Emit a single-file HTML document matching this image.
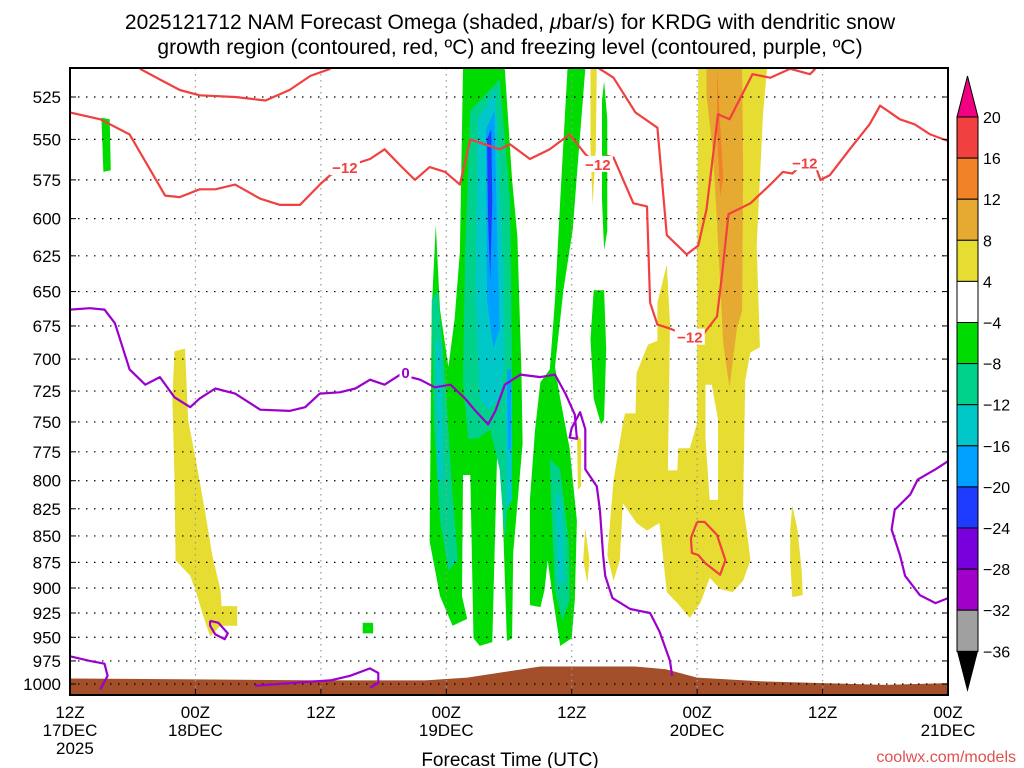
<!DOCTYPE html>
<html><head><meta charset="utf-8"><style>
html,body{margin:0;padding:0;background:#fff;}
svg{display:block;font-family:"Liberation Sans",sans-serif;}
</style></head><body>
<svg id="chart" width="1024" height="768" viewBox="0 0 1024 768">
<text x="510" y="29" font-size="21" text-anchor="middle">2025121712 NAM Forecast Omega (shaded, <tspan font-style="italic">μ</tspan>bar/s) for KRDG with dendritic snow</text>
<text x="510" y="54" font-size="21" text-anchor="middle">growth region (contoured, red, ºC) and freezing level (contoured, purple, ºC)</text>
<g id="shade"></g>
<g id="terrain"></g>
<g id="grid"></g>
<g id="lines"></g>
<rect x="70" y="68" width="878" height="627" fill="none" stroke="#000" stroke-width="2"/>
<g id="axes"></g>
<g id="cbar"></g>
<text x="510" y="766" font-size="19" text-anchor="middle">Forecast Time (UTC)</text>
<text x="1016" y="762" font-size="16" fill="#e05050" text-anchor="end">coolwx.com/models</text>
</svg>
<script>
const xTickHours=[0,12,24,36,48,60,72,84];
const xTickLabels=[["12Z","17DEC","2025"],["00Z","18DEC"],["12Z"],["00Z","19DEC"],["12Z"],["00Z","20DEC"],["12Z"],["00Z","21DEC"]];
const pLevels=[525,550,575,600,625,650,675,700,725,750,775,800,825,850,875,900,925,950,975,1000];
const cbarValues=[20,16,12,8,4,-4,-8,-12,-16,-20,-24,-28,-32,-36];
const cbarColors=["#f04040","#f08228","#e6aa32","#e6dc32","#ffffff","#00dc00","#00d28c","#00c8c8","#00a0ff","#1e3cff","#7800dc","#a000c8","#a0a0a0"];
const shadeValues=[6,-6,-6,-6,-6,-6,-6,6,6,6,6,0,10,14,6,-10,-10,-10,-14,-14,-14,-14,-18,-18,-22];
const shadePolys=[
[[10.0,694],[11.0,692],[11.3,748],[12.2,790],[12.9,826],[13.6,868],[14.4,902],[14.5,918],[16.0,918],[16.0,938],[14.4,938],[13.4,949],[12.9,933],[12.0,902],[11.5,888],[10.1,873],[10.0,799],[9.8,731]],
[[3.0,537],[3.8,538],[3.9,569],[3.2,570]],
[[28.0,935],[29.0,935],[29.0,946],[28.0,946]],
[[37.6,509],[41.6,509],[42.3,575],[42.8,612],[43.2,712],[43.3,768],[42.4,866],[42.3,951],[41.8,954],[41.3,802],[40.9,764],[40.4,955],[39.2,959],[38.6,951],[38.3,795],[37.6,795],[37.5,908],[38.0,931],[36.6,938],[35.4,908],[34.4,855],[34.6,663],[35.0,604],[35.4,663],[36.2,706],[36.8,670],[37.3,622]],
[[47.6,509],[49.3,509],[48.5,572],[48.1,607],[47.2,649],[46.4,706],[46.9,731],[47.8,772],[48.5,836],[48.3,912],[48.0,951],[46.9,959],[46.2,910],[45.7,873],[45.4,902],[45.0,919],[44.0,917],[44.0,817],[44.5,756],[45.0,718],[45.9,708],[46.4,656],[46.9,588]],
[[51.1,516],[51.4,538],[51.4,608],[51.1,621],[50.9,588],[50.9,527]],
[[50.1,649],[51.1,649],[51.3,692],[51.1,748],[50.8,752],[50.1,731],[49.8,685]],
[[48.5,760],[48.9,765],[48.9,805],[48.6,808]],
[[49.8,509],[50.4,509],[50.3,556],[50.0,591],[49.8,556]],
[[49.3,843],[49.7,873],[49.5,895],[49.1,873]],
[[60.1,508],[66.7,508],[66.3,535],[65.7,618],[66.0,691],[65.1,695],[64.6,717],[64.4,822],[64.8,849],[65.1,873],[64.4,893],[63.4,904],[62.2,901],[61.2,890],[60.3,915],[59.3,930],[58.1,915],[57.1,904],[56.4,838],[55.2,845],[54.2,838],[52.9,820],[52.6,873],[52.0,893],[51.4,868],[52.0,800],[52.9,751],[53.1,743],[54.1,743],[54.2,711],[55.3,689],[56.2,686],[56.2,658],[57.1,631],[57.4,673],[57.2,791],[58.1,791],[58.2,772],[59.3,772],[60.0,751],[60.0,623]],
[[60.8,720],[61.4,720],[62.0,748],[62.0,817],[61.2,817],[60.8,764]],
[[60.9,508],[64.3,508],[64.4,567],[64.3,664],[63.8,677],[63.1,722],[62.5,689],[61.9,602],[61.5,557],[60.9,524]],
[[61.9,510],[62.5,574],[62.2,585],[61.9,545]],
[[69.1,822],[69.6,844],[70.0,883],[70.1,907],[69.1,909],[68.9,873],[68.9,844]],
[[38.3,533],[41.1,515],[42.1,588],[42.3,700],[42.1,799],[41.6,854],[41.1,790],[40.2,756],[39.0,764],[38.1,764],[37.6,718],[37.8,624]],
[[34.6,656],[35.2,649],[35.9,716],[36.5,799],[37.1,873],[36.2,883],[35.4,835],[34.8,748]],
[[45.9,781],[46.9,790],[47.7,854],[47.8,912],[47.1,933],[46.4,902],[46.1,836]],
[[39.0,538],[40.7,521],[41.4,621],[41.6,700],[41.1,731],[40.0,740],[39.2,731],[38.8,656]],
[[41.6,716],[42.3,723],[42.3,817],[41.8,826]],
[[35.0,685],[35.5,689],[35.7,799],[35.2,799]],
[[46.5,809],[47.0,817],[47.3,893],[46.7,898]],
[[39.8,544],[40.6,533],[40.9,621],[41.1,677],[40.5,692],[39.9,656]],
[[41.8,708],[42.2,708],[42.2,772],[41.9,774]],
[[39.9,550],[40.3,544],[40.4,588],[40.2,642],[40.0,601]]
];
const terrainHours=[0,12,24,34,38,42,45,50,54,57,60,66,72,78,84];
const terrainPsfc=[994,995,996,996,993,986,981,981,981,984,993,997,999,1001,999];
const redLines=[
[[0,534],[2.9,538],[5.7,547],[7.7,569],[9.1,585],[10.5,586],[12.4,581],[13.9,581],[15.8,578],[18.2,587],[20.1,591],[22.0,591],[23.9,578],[24.9,572],[26.3,567],[28.7,562],[30.1,556],[31.6,566],[33.0,575],[34.4,567],[35.9,570],[37.3,578],[38.3,550],[41.1,556],[42.1,553],[44.0,562],[45.9,556],[47.8,547],[49.3,559],[50.5,565],[51.4,560],[52.0,561],[53.9,590],[55.2,592],[55.5,658],[56.2,674],[57.4,677],[59.3,683],[60.6,681],[61.9,668],[62.4,637],[63.0,597],[65.1,590],[67.0,578],[68.2,570],[69.1,571],[70.3,564],[71.3,566],[71.8,575],[72.7,572],[74.6,556],[76.5,541],[77.5,530],[79.4,538],[80.8,541],[82.3,547],[84,551]],
[[6.7,509],[8.6,515],[10.5,521],[12.4,524],[15.8,525],[18.7,527],[21.0,521],[23.0,513],[24.9,509]],
[[50.4,508],[52.0,514],[54.1,534],[56.2,543],[57.1,611],[59.0,624],[60.1,618],[60.9,594],[62.0,535],[63.1,538],[65.3,512],[67.0,514],[68.9,509],[70.8,512],[71.3,509]],
[[60.0,837],[60.7,837],[61.9,849],[62.7,873],[62.2,887],[60.8,876],[60.1,868],[59.5,866],[59.4,852],[60.0,837]]
];
const redLabels=[[26.3,567],[50.5,565],[59.3,683],[70.3,564]];
const purpleLines=[
[[0,663],[1.9,662],[3.3,663],[4.3,673],[5.7,708],[7.2,720],[8.6,714],[10.0,730],[11.5,738],[12.4,731],[13.9,723],[15.8,727],[18.2,740],[21.0,741],[22.5,738],[23.9,727],[25.8,726],[27.3,723],[28.7,716],[30.1,720],[31.6,712],[33.5,716],[34.9,722],[36.4,720],[37.8,731],[38.7,740],[40.0,752],[40.7,741],[41.6,720],[43.1,712],[45.0,714],[46.4,712],[47.4,727],[48.3,744],[48.5,764],[47.8,763],[48.0,755],[48.8,742],[49.3,756],[49.3,790],[50.4,805],[50.7,826],[51.0,868],[51.2,888],[51.9,910],[53.6,921],[55.5,925],[56.4,944],[57.4,975],[57.6,991]],
[[0,970],[1.9,975],[3.3,978],[3.6,991],[2.9,1006]],
[[17.7,1002],[21.0,999],[24.9,996],[26.8,991],[28.7,983],[29.5,988],[29.5,999],[28.7,1004]],
[[13.4,933],[14.2,935],[15.1,946],[14.8,952],[13.9,947],[13.4,938],[13.4,933]],
[[84,783],[82.8,790],[81.1,799],[80.4,812],[78.9,826],[78.6,844],[79.4,868],[79.9,888],[81.3,907],[82.8,915],[84,910]]
];
const purpleLabels=[[32.1,710]];

const NS="http://www.w3.org/2000/svg";
const X0=70,X1=948;
function X(h){return X0+(h/84)*(X1-X0);}
function Y(p){return 97+(Math.log(p)-Math.log(525))*911;}
function mk(tag,attrs,parent){const e=document.createElementNS(NS,tag);for(const k in attrs)e.setAttribute(k,attrs[k]);parent.appendChild(e);return e;}
function colorFor(v){
  if(v>=20)return "#f00082";
  for(let i=0;i<cbarValues.length-1;i++){if(v<cbarValues[i]&&v>=cbarValues[i+1])return cbarColors[i];}
  return "#000";
}
function ptsStr(a){return a.map(q=>X(q[0]).toFixed(1)+","+Y(q[1]).toFixed(1)).join(" ");}

const svg=document.getElementById("chart");
const clip=mk("clipPath",{id:"pc"},svg);mk("rect",{x:70,y:68,width:878,height:627},clip);

const shade=document.getElementById("shade");shade.setAttribute("clip-path","url(#pc)");
shadePolys.forEach((poly,i)=>{
  const e=mk("polygon",{points:ptsStr(poly),fill:colorFor(shadeValues[i])},shade);
  
  
});
const ter=document.getElementById("terrain");
{
  let pts=terrainHours.map((h,i)=>[h,terrainPsfc[i]]);
  let s=ptsStr(pts)+" "+X(84)+",695 "+X(0)+",695";
  const e=mk("polygon",{points:s,fill:"#a24f2a"},ter);
  
  
}
const grid=document.getElementById("grid");
pLevels.forEach(p=>{
  const e=mk("line",{x1:70,x2:948,y1:Y(p),y2:Y(p),stroke:"#000","stroke-width":1.2,"stroke-dasharray":"1.5 6.5"},grid);
  
  
});
xTickHours.forEach(h=>{
  const e=mk("line",{x1:X(h),x2:X(h),y1:68,y2:695,stroke:"#999","stroke-width":1.2,"stroke-dasharray":"1.5 4.5"},grid);
  
  
});
const lines=document.getElementById("lines");lines.setAttribute("clip-path","url(#pc)");
redLines.forEach(l=>{
  const e=mk("polyline",{points:ptsStr(l),fill:"none",stroke:"#f04040","stroke-width":2.2,"stroke-linejoin":"round"},lines);
  
  
});
purpleLines.forEach(l=>{
  const e=mk("polyline",{points:ptsStr(l),fill:"none",stroke:"#9b00cd","stroke-width":2.2,"stroke-linejoin":"round"},lines);
  
  
});
redLabels.forEach(q=>{
  const x=X(q[0]),y=Y(q[1]);
  mk("rect",{x:x-15,y:y-8,width:30,height:16,fill:"#fff"},lines);
  const t=mk("text",{x:x,y:y+6,"font-size":15,"font-weight":"bold",fill:"#f04040","text-anchor":"middle"},lines);
  t.textContent="−12";
  
  
});
purpleLabels.forEach(q=>{
  const x=X(q[0]),y=Y(q[1]);
  mk("rect",{x:x-6,y:y-8,width:12,height:16,fill:"#fff"},lines);
  const t=mk("text",{x:x,y:y+6,"font-size":15,"font-weight":"bold",fill:"#9b00cd","text-anchor":"middle"},lines);
  t.textContent="0";
  
  
});
const axes=document.getElementById("axes");
pLevels.forEach(p=>{
  const t=mk("text",{x:61,y:Y(p)+6,"font-size":17,"text-anchor":"end"},axes);
  t.textContent=p;
  
  
  mk("line",{x1:70,x2:76,y1:Y(p),y2:Y(p),stroke:"#000"},axes);
  mk("line",{x1:942,x2:948,y1:Y(p),y2:Y(p),stroke:"#000"},axes);
});
xTickHours.forEach((h,i)=>{
  mk("line",{x1:X(h),x2:X(h),y1:689,y2:695,stroke:"#000"},axes);
  xTickLabels[i].forEach((s,j)=>{
    const anchor=(i===0&&j===2)?"start":"middle";
    const xx=(i===0&&j===2)?X(h)-14:X(h);
    const t=mk("text",{x:xx,y:718+j*18,"font-size":17,"text-anchor":anchor},axes);
    t.textContent=s;
    
    
  });
});
const cb=document.getElementById("cbar");
const cbX=957,cbW=21,cbTop=117,cbStep=41.1;
mk("polygon",{points:`${cbX},${cbTop} ${cbX+cbW},${cbTop} ${cbX+cbW/2},76`,fill:"#f00082",stroke:"#000","stroke-width":1},cb);
cbarColors.forEach((c,i)=>{
  const e=mk("rect",{x:cbX,y:cbTop+i*cbStep,width:cbW,height:cbStep,fill:c,stroke:"#000","stroke-width":1},cb);
  
  
});
const cbBot=cbTop+cbarColors.length*cbStep;
mk("polygon",{points:`${cbX},${cbBot} ${cbX+cbW},${cbBot} ${cbX+cbW/2},692`,fill:"#000"},cb);
cbarValues.forEach((v,i)=>{
  const t=mk("text",{x:983,y:cbTop+i*cbStep+6,"font-size":16},cb);
  t.textContent=v<0?"−"+Math.abs(v):String(v);
  
  
});
</script>
</body></html>
